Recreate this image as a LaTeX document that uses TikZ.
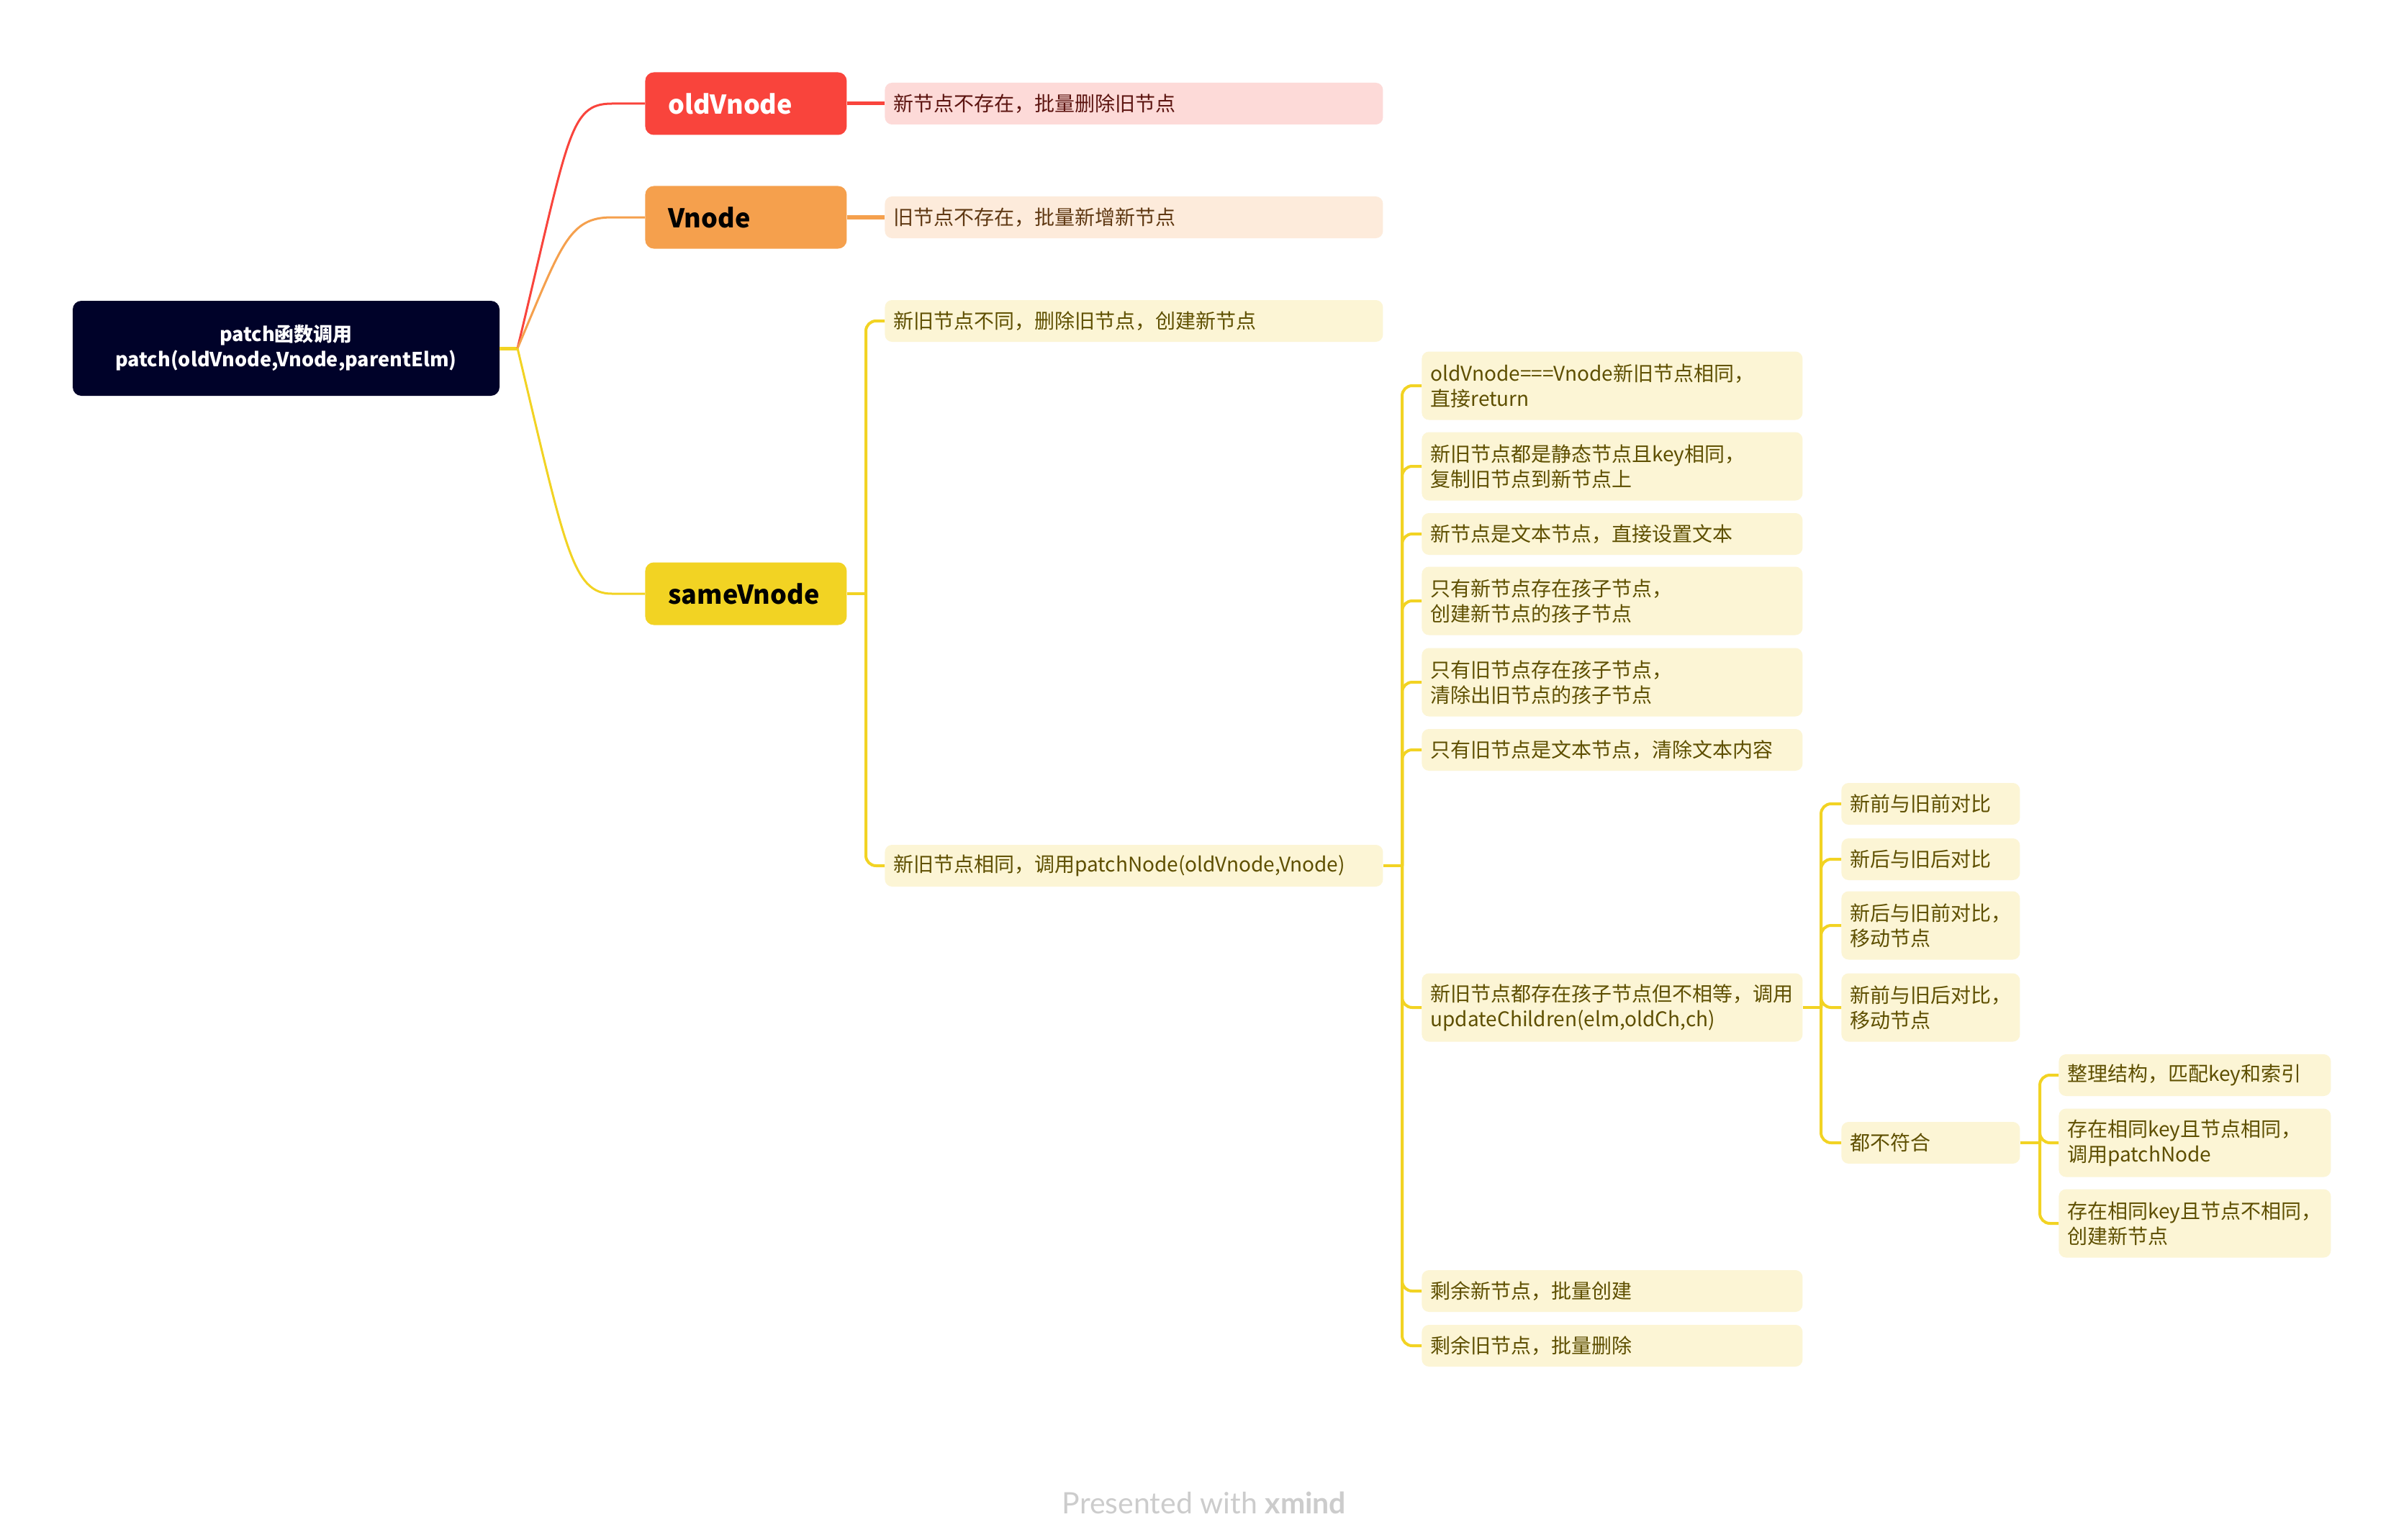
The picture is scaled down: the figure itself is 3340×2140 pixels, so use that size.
\documentclass[tikz,border=0pt]{standalone}
\usepackage{fontspec}
\setmainfont{Noto Sans CJK SC}
\newfontfamily\footfont{Lato}
\definecolor{cRoot}{HTML}{000229}
\definecolor{cRed}{HTML}{F9443C}
\definecolor{cOrg}{HTML}{F5A04D}
\definecolor{cYel}{HTML}{F2D323}
\definecolor{fPink}{HTML}{FDDAD8}
\definecolor{fPeach}{HTML}{FDEBDB}
\definecolor{fYel}{HTML}{FCF5D5}
\definecolor{tPink}{HTML}{5C1410}
\definecolor{tPeach}{HTML}{5F3812}
\definecolor{tYel}{HTML}{5E4F00}
\definecolor{cFoot}{HTML}{CCCCCC}
\begin{document}
\begin{tikzpicture}[x=0.5pt,y=-0.5pt,
  rootbox/.style={fill=cRoot, rounded corners=6pt, minimum width=296.5pt, minimum height=66pt, text=white, font=\bfseries\fontsize{13.5}{17.5}\selectfont, align=center},
  lonebox/.style={rounded corners=6pt, anchor=west, minimum height=43.5pt, text width=108pt, inner xsep=16pt, align=left, font=\bfseries\fontsize{18}{20}\selectfont},
  leaf/.style={rounded corners=5pt, anchor=west, inner xsep=6pt, inner ysep=0pt, align=left, font=\fontsize{14}{17.5}\selectfont, minimum height=29pt},
  pinkleaf/.style={leaf, fill=fPink, text=tPink},
  peachleaf/.style={leaf, fill=fPeach, text=tPeach},
  yelleaf/.style={leaf, fill=fYel, text=tYel},
  twoline/.style={minimum height=47.5pt},
  wtwo/.style={text width=334pt},
  wthree/.style={text width=252.5pt},
  wfour/.style={text width=112pt},
  wfive/.style={text width=177pt},
  conn/.style={line width=2pt, rounded corners=7pt},
  mainconn/.style={line width=1.5pt}
]
\useasboundingbox[fill=white] (0,0) rectangle (3340,2140);

% root
\node[rootbox] (root) at (397.5,484) {patch函数调用\\patch(oldVnode,Vnode,parentElm)};

% level 1
\node[lonebox, fill=cRed, text=white] (old) at (896,144) {oldVnode};
\node[lonebox, fill=cOrg, text=black] (vn) at (896,302) {Vnode};
\node[lonebox, fill=cYel, text=black] (sv) at (896,825) {sameVnode};

% level 2
\node[pinkleaf, wtwo] (a1) at (1229,144) {新节点不存在，批量删除旧节点};
\node[peachleaf, wtwo] (b1) at (1229,302) {旧节点不存在，批量新增新节点};
\node[yelleaf, wtwo] (s1) at (1229,446) {新旧节点不同，删除旧节点，创建新节点};
\node[yelleaf, wtwo] (s2) at (1229,1203) {新旧节点相同，调用patchNode(oldVnode,Vnode)};

% level 3
\node[yelleaf, wthree, twoline] (p1) at (1975,536) {oldVnode===Vnode新旧节点相同，\\直接return};
\node[yelleaf, wthree, twoline] (p2) at (1975,648) {新旧节点都是静态节点且key相同，\\复制旧节点到新节点上};
\node[yelleaf, wthree] (p3) at (1975,742) {新节点是文本节点，直接设置文本};
\node[yelleaf, wthree, twoline] (p4) at (1975,835) {只有新节点存在孩子节点，\\创建新节点的孩子节点};
\node[yelleaf, wthree, twoline] (p5) at (1975,948) {只有旧节点存在孩子节点，\\清除出旧节点的孩子节点};
\node[yelleaf, wthree] (p6) at (1975,1042) {只有旧节点是文本节点，清除文本内容};
\node[yelleaf, wthree, twoline] (p7) at (1975,1400) {新旧节点都存在孩子节点但不相等，调用\\updateChildren(elm,oldCh,ch)};
\node[yelleaf, wthree] (p8) at (1975,1794) {剩余新节点，批量创建};
\node[yelleaf, wthree] (p9) at (1975,1870) {剩余旧节点，批量删除};

% level 4
\node[yelleaf, wfour] (u1) at (2558,1117) {新前与旧前对比};
\node[yelleaf, wfour] (u2) at (2558,1194) {新后与旧后对比};
\node[yelleaf, wfour, twoline] (u3) at (2558,1286) {新后与旧前对比，\\移动节点};
\node[yelleaf, wfour, twoline] (u4) at (2558,1400) {新前与旧后对比，\\移动节点};
\node[yelleaf, wfour] (u5) at (2558,1588) {都不符合};

% level 5
\node[yelleaf, wfive] (v1) at (2860,1494) {整理结构，匹配key和索引};
\node[yelleaf, wfive, twoline] (v2) at (2860,1588) {存在相同key且节点相同，\\调用patchNode};
\node[yelleaf, wfive, twoline] (v3) at (2860,1700) {存在相同key且节点不相同，\\创建新节点};

% root connectors
\coordinate (r0) at (719,484);
\draw[cYel, line width=2.5pt] (root.east) -- (r0);
\draw[cRed, mainconn] (r0) .. controls (790,190) and (790,144) .. (850,144) -- (old.west);
\draw[cOrg, mainconn] (r0) .. controls (780,340) and (790,302) .. (850,302) -- (vn.west);
\draw[cYel, mainconn] (r0) .. controls (785,760) and (795,825) .. (850,825) -- (sv.west);

% level1 -> level2
\draw[cRed, line width=2.5pt] (old.east) -- (a1.west);
\draw[cOrg, line width=2.5pt] (vn.east) -- (b1.west);
\coordinate (j2) at (1203,825);
\draw[cYel, conn] (sv.east) -- (j2);
\draw[cYel, conn] (j2) |- (s1.west);
\draw[cYel, conn] (j2) |- (s2.west);

% level2 -> level3
\coordinate (j3) at (1948,1203);
\draw[cYel, conn] (s2.east) -- (j3);
\foreach \n in {p1,p2,p3,p4,p5,p6,p7,p8,p9}
  \draw[cYel, conn] (j3) |- (\n.west);

% level3 -> level4
\coordinate (j4) at (2530,1400);
\draw[cYel, conn] (p7.east) -- (j4);
\foreach \n in {u1,u2,u3,u4,u5}
  \draw[cYel, conn] (j4) |- (\n.west);

% level4 -> level5
\coordinate (j5) at (2834,1588);
\draw[cYel, conn] (u5.east) -- (j5);
\foreach \n in {v1,v2,v3}
  \draw[cYel, conn] (j5) |- (\n.west);

% footer
\node[anchor=base, text=cFoot, font=\footfont\fontsize{20.5}{23}\selectfont] (foot) at (1673,2103) {Presented with {\bfseries xmind}};
\end{tikzpicture}
\end{document}
